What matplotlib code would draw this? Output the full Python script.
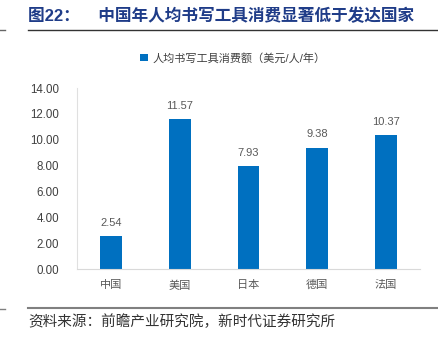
import matplotlib.pyplot as plt
from matplotlib.lines import Line2D

plt.rcParams['font.family'] = ['Liberation Sans', 'Noto Sans CJK SC', 'DejaVu Sans']

countries = ['中国', '美国', '日本', '德国', '法国']
spend = [2.54, 11.57, 7.93, 9.38, 10.37]
yticks = [0, 2, 4, 6, 8, 10, 12, 14]
series_name = '人均书写工具消费额（美元/人/年）'
title = '图22：    中国年人均书写工具消费显著低于发达国家'
source = '资料来源：前瞻产业研究院，新时代证券研究所'

bar_color = '#0070C0'
gray = '#595959'

fig = plt.figure(figsize=(4.39, 3.42), dpi=100)
ax = fig.add_axes([77 / 439, 1 - 269 / 342, 343 / 439, 181 / 342])

x = range(len(countries))
ax.bar(x, spend, width=0.32, color=bar_color, label=series_name)
for i, v in zip(x, spend):
    ax.annotate(f'{v:.2f}', (i, v), xytext=(0, 6), textcoords='offset points',
                ha='center', va='bottom', fontsize=8, color=gray)

ax.set_xlim(-0.5, len(countries) - 0.5)
ax.set_ylim(0, 14)
ax.set_yticks(yticks)
ax.set_yticklabels([f'{t:.2f}' for t in yticks], fontsize=8.3, color='#404040')
ax.set_xticks(list(x))
ax.set_xticklabels(countries, fontsize=8, color=gray)
ax.tick_params(length=0, pad=8)
ax.tick_params(axis='y', pad=13)
for side in ['top', 'right']:
    ax.spines[side].set_visible(False)
ax.spines['left'].set_color('#E0E0E0')
ax.spines['bottom'].set_color('#D9D9D9')
ax.spines['left'].set_linewidth(0.8)

ax.legend(loc='center', bbox_to_anchor=(233 / 439, 1 - 58 / 342),
          bbox_transform=fig.transFigure, frameon=False, fontsize=8,
          handlelength=0.7, handleheight=0.7, handletextpad=0.4,
          labelcolor='#404040')

fig.text(28 / 439, 1 - 16 / 342, title, fontsize=12, fontweight='bold',
         color='#1F3C88', ha='left', va='center')
fig.text(28 / 439, 1 - 322 / 342, source, fontsize=10.5, color='#333333',
         ha='left', va='center')

# rules above and below the chart
fig.add_artist(Line2D([28 / 439, 437 / 439], [1 - 30 / 342] * 2,
                      color='#333333', lw=1, transform=fig.transFigure))
fig.add_artist(Line2D([0, 5 / 439], [1 - 30 / 342] * 2,
                      color='#666666', lw=1, transform=fig.transFigure))
fig.add_artist(Line2D([28 / 439, 437 / 439], [1 - 308 / 342] * 2,
                      color='#808080', lw=1.5, transform=fig.transFigure))
fig.add_artist(Line2D([0, 5 / 439], [1 - 309 / 342] * 2,
                      color='#808080', lw=1, transform=fig.transFigure))

fig.savefig('out.png', dpi=100)
